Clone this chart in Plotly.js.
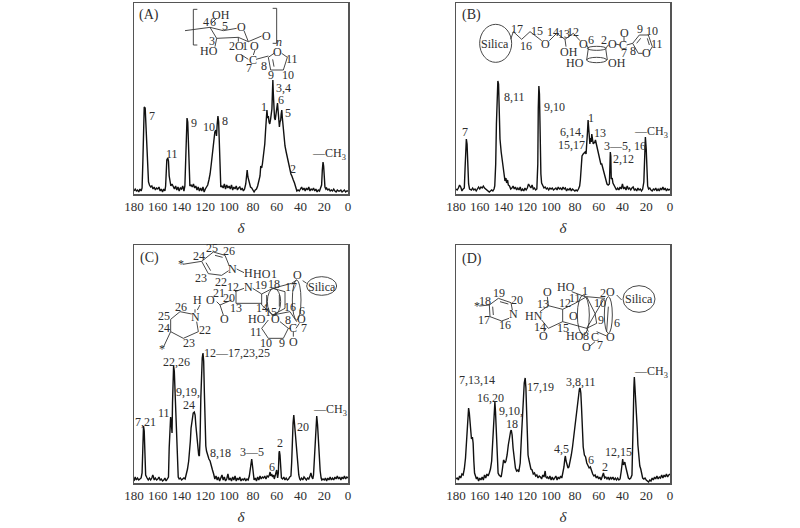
<!DOCTYPE html>
<html><head><meta charset="utf-8">
<script src="https://cdn.plot.ly/plotly-3.0.1.min.js"></script>
<style>html,body{margin:0;padding:0;background:#fff}</style></head>
<body><div id="chart" style="width:800px;height:528px"></div>
<script>
// spectra: [chemical shift, intensity]
const spectrumA = [[180,3],[179,5],[178,3],[177,4],[176,2],[175,5],[174,3],[173.2,6],[172.6,30],[172,70],[171.4,87],[170.6,86],[170,70],[169.4,45],[168.6,22],[167.8,12],[167,9],[166,7],[165,8],[164,5],[163,7],[162,4],[161,6],[160,5],[159,7],[158,3],[157,5],[156,2],[155,5],[154,3],[153.4,8],[153,25],[152.4,34],[151.6,36],[151,33],[150.4,18],[149.6,9],[149,8],[148,10],[147,7],[146,5],[145,8],[144,4],[143,7],[142,3],[141,6],[140,5],[139,8],[138,3],[137.2,8],[136.6,30],[136,62],[135.4,76],[134.8,72],[134.2,40],[133.6,15],[133,8],[132,9],[131,7],[130,10],[129,6],[128,8],[127,4],[126,7],[125,3],[124,6],[123,3],[122,7],[121,2],[120,5],[119,7],[118,9],[117,14],[116,20],[115,30],[114,42],[113,52],[112,62],[111.2,64],[110.6,58],[110,70],[109.4,78],[108.8,72],[108.2,40],[107.6,14],[107,7],[106,8],[105,6],[104,10],[103,5],[102,9],[101,6],[100,8],[99,5],[98,9],[97,4],[96,7],[95,5],[94,8],[93,4],[92,6],[91,7],[90,4],[89,6],[88,3],[87,5],[86,10],[85.4,20],[84.8,24],[84.2,17],[83.6,14],[83,12],[82,7],[81,6],[80,3],[79,2],[78,4],[77,5],[76,8],[75,12],[74,18],[73.4,28],[72.6,26],[72,30],[71,38],[70,50],[69.4,62],[68.8,75],[68.2,84],[67.6,76],[67,78],[66.4,72],[65.8,70],[65.2,74],[64.6,78],[64,85],[63.6,100],[63.2,114],[62.8,100],[62.4,84],[61.8,76],[61.2,74],[60.6,80],[60,86],[59.3,91],[58.7,82],[58.2,72],[57.7,67],[57.2,72],[56.6,74],[56.2,80],[55.7,84],[55.2,76],[54.6,66],[54,58],[53,48],[52,42],[51,36],[50,30],[49,25],[48,20],[47.2,18],[46.6,15],[46,14],[45,11],[44,6],[43,3],[42,4],[41,3],[40,5],[39,7],[38,4],[37,6],[36,3],[35,6],[34,4],[33,7],[32,3],[31,5],[30,4],[29,6],[28,3],[27,5],[26,2],[25,4],[24,3],[23,6],[22.2,9],[21.6,24],[21,32],[20.5,28],[20,14],[19.4,7],[18.6,5],[18,6],[17,4],[16,5],[15,3],[14,4],[13,3],[12,5],[11,3],[10,2],[9,4],[8,3],[7,3],[6,4],[5,2],[4,3],[3,4],[2,2],[1,3],[0,3]];
const spectrumB = [[180,5],[179,4],[178,6],[177,9],[176,7],[175,3],[174,5],[173,6],[172.4,25],[171.8,45],[171.3,55],[170.7,50],[170,28],[169.4,10],[168.6,5],[167,4],[166,6],[165,4],[164,5],[163,3],[162,5],[161,7],[160,5],[159,7],[158,6],[157,8],[156,6],[155,5],[154,4],[153,3],[152,2],[151,3],[150,4],[149,3],[148,5],[147.4,8],[146.6,30],[146,70],[145.4,100],[144.8,113],[144.2,110],[143.6,80],[143,55],[142,42],[141,32],[140,27],[139.4,20],[138.8,13],[138,16],[137.4,11],[136.6,14],[136,9],[135,8],[134,5],[133,6],[132,8],[131,5],[130,7],[129,4],[128,6],[127,4],[126,7],[125,3],[124,5],[123,3],[122,6],[121,4],[120,6],[119,10],[118,8],[117,6],[116,9],[115,5],[114,6],[113,4],[112,5],[111.2,30],[110.8,85],[110.3,108],[109.8,100],[109.2,50],[108.6,20],[108,11],[107,8],[106,6],[105,7],[104,5],[103,6],[102,4],[101,6],[100,5],[99,6],[98,4],[97,5],[96,6],[95,4],[94,7],[93,5],[92,6],[91,4],[90,7],[89,5],[88,6],[87,3],[86,5],[85,4],[84,6],[83,3],[82,5],[81,4],[80,3],[79,4],[78,3],[77,5],[76,8],[75.4,14],[74.6,30],[74,38],[73,40],[72,41],[71.4,42],[70.6,40],[70,48],[69.4,62],[68.9,74],[68.4,62],[67.9,52],[67.4,50],[66.8,56],[66.2,52],[65.8,60],[65.2,53],[64.6,50],[64,52],[63.4,51],[62.7,54],[62,50],[61,46],[60,42],[59.4,38],[58.8,34],[58.2,30],[57.4,30],[56.6,26],[56,24],[55.2,18],[54.4,14],[54,12],[53,10],[52,9],[51,10],[50.6,25],[50.2,42],[49.8,38],[49.4,15],[48.6,16],[48,11],[47,8],[46,6],[45,4],[44,6],[43,4],[42,7],[41,5],[40,10],[39,5],[38,7],[37,4],[36,8],[35,5],[34,6],[33,4],[32,6],[31,7],[30,4],[29,5],[28,3],[27,6],[26,4],[25,5],[24,3],[23,5],[22,12],[21.4,35],[20.7,57],[20,45],[19.4,20],[18.8,8],[18,5],[17,6],[16,4],[15,3],[14,5],[13,4],[12,6],[11,3],[10,5],[9,3],[8,6],[7,4],[6,7],[5,4],[4,6],[3,3],[2,5],[1,4],[0,5]];
const spectrumC = [[180,2],[179,6],[178,3],[177,5],[176,3],[175,4],[174,5],[173.2,10],[172.6,40],[172,57],[171.4,52],[170.8,28],[170.2,8],[169,5],[168,3],[167,5],[166,3],[165,5],[164.2,8],[163.6,6],[163,3],[162,5],[161,3],[160,4],[159,6],[158,3],[157,4],[156,2],[155,3],[154,5],[153,2],[152,4],[151,6],[150.4,35],[149.8,60],[149.2,66],[148.6,60],[148,50],[147.6,80],[147.2,105],[146.7,117],[146.1,112],[145.5,90],[144.8,70],[144,45],[143.4,20],[142.8,6],[142,4],[141,5],[140,3],[139,4],[138,5],[137,4],[136,8],[135,14],[134,22],[133.4,28],[132.6,42],[132,55],[131,66],[130.2,70],[129.3,71],[128.6,68],[128,58],[127.2,47],[126.4,35],[125.6,28],[125,27],[124.4,45],[123.8,85],[123.2,115],[122.6,125],[122,130],[121.4,122],[120.8,90],[120.2,55],[119.6,37],[119,32],[118.2,28],[117,24],[116,22],[115,16],[114,13],[113,9],[112,4],[111,7],[110,3],[109,6],[108,2],[107,5],[106,8],[105,3],[104,6],[103,2],[102,4],[101,9],[100,3],[99,5],[98,2],[97,6],[96,3],[95,7],[94,2],[93,5],[92,3],[91,6],[90,2],[89,4],[88,3],[87,5],[86,2],[85,4],[84,3],[83,7],[82.2,16],[81.6,22],[81,24],[80.4,18],[79.8,7],[79,3],[78,5],[77,2],[76,6],[75,3],[74,7],[73,4],[72,6],[71,5],[70,7],[69,4],[68,7],[67,6],[66.2,8],[65.5,11],[65,7],[64.2,9],[63.4,6],[62.6,8],[62,4],[61,9],[60,13],[59.2,5],[58.6,10],[58,30],[57.7,32],[57.2,28],[56.6,12],[56,5],[55,4],[54,6],[53,3],[52,5],[51,3],[50,4],[49,6],[48,7],[47.4,20],[46.8,48],[46.2,60],[45.6,68],[45,60],[44.4,50],[43.8,38],[43,26],[42.2,14],[41.4,8],[40.6,4],[40,3],[39,5],[38,3],[37,6],[36,4],[35,3],[34,5],[33,4],[32,7],[31.2,10],[30.4,6],[29.6,4],[29,8],[28.4,20],[27.6,48],[27,60],[26.3,67],[25.6,58],[25,42],[24.2,25],[23.4,12],[22.6,5],[22,3],[21,4],[20,3],[19,5],[18,2],[17,5],[16,3],[15,6],[14,3],[13,5],[12,3],[11,6],[10,4],[9,7],[8,4],[7,6],[6,3],[5,6],[4,4],[3,7],[2,4],[1,6],[0,5]];
const spectrumD = [[180,4],[179,5],[178,3],[177,7],[176,5],[175,9],[174,8],[173,14],[172,25],[171.2,40],[170.4,60],[169.8,72],[169.4,75],[168.8,70],[168.2,60],[167.6,48],[167,44],[166.2,46],[165.6,40],[165,22],[164.4,10],[163.6,7],[162.8,4],[162,6],[161,2],[160,5],[159,3],[158,6],[157,3],[156,8],[155,5],[154,9],[153,7],[152,10],[151,14],[150,22],[149,45],[148.2,68],[147.6,78],[147.3,81],[146.8,72],[146.2,50],[145.4,25],[144.6,10],[143.8,8],[143,7],[142,6],[141.2,12],[140.6,21],[140,23],[139.4,22],[138.8,20],[138,22],[137,28],[136,38],[135,47],[134,52],[133.5,53],[132.8,48],[132,35],[131,22],[130,15],[129,12],[128,13],[127.2,11],[126.6,14],[126,20],[125,45],[124,75],[123.4,92],[122.6,100],[121.8,105],[121.2,95],[120.6,72],[120,45],[119.4,28],[118.8,24],[118,20],[117,14],[116,13],[115,9],[114,10],[113,7],[112,8],[111,5],[110,7],[109,6],[108,4],[107,8],[106,6],[105.4,9],[105,12],[104.4,6],[103.6,5],[103,6],[102,4],[101,7],[100,3],[99,6],[98,3],[97,5],[96,7],[95,3],[94,6],[93,4],[92,7],[91,5],[90,10],[89.2,16],[88.4,25],[88,27],[87.4,22],[86.6,17],[85.8,15],[85,16],[84,21],[83,28],[82,36],[81,46],[80,58],[79,70],[78,82],[77,90],[76.2,94],[75.6,95],[75,90],[74.4,75],[73.6,50],[73,36],[72,28],[71,26],[70,20],[69,18],[68,15],[67,16],[66,12],[65,9],[64,7],[63,8],[62,5],[61,7],[60,4],[59,6],[58,3],[57,7],[56,10],[55,5],[54,6],[53,4],[52,6],[51,3],[50,6],[49,4],[48,6],[47,3],[46,5],[45,3],[44,5],[43,3],[42,4],[41,12],[40.4,20],[39.8,24],[39.2,18],[38.6,19],[38,21],[37.4,17],[36.6,12],[36,8],[35,5],[34,4],[33,5],[32,8],[31.4,30],[30.8,70],[30.4,95],[30,106],[29.6,98],[29,88],[28.4,75],[27.6,55],[27,38],[26.2,22],[25.4,17],[24.6,14],[24,9],[23,5],[22,4],[21,5],[20,3],[19,2],[18,1],[17,3],[16,2],[15,5],[14,3],[13,6],[12,4],[11,7],[10,4],[9,6],[8,5],[7,8],[6,5],[5,8],[4,6],[3,9],[2,6],[1,8],[0,9]];
const xTicks = [180,160,140,120,100,80,60,40,20,0];
const xAxisTitle = '<i>δ</i>';
// label tables: [text, zoom-x, zoom-y]  (3x local units of each panel's drawing area)
const labelsA = [['(A)',87,45],['7',95,347],['11',157,462],['9',221,368],['10',268,382],['8',315,362],['3,4',490,265],['1',432,320],['6',483,300],['5',503,340],['2',518,508],['—CH<sub>3</sub>',627,463],['OH',303,45],['4',258,66],['6',278,66],['5',315,78],['O',363,82],['O',440,107],['<i>n</i>',478,125],['3',275,122],['HO',268,152],['2',335,137],['O',357,137],['1',375,137],['O',405,137],['O',357,175],['C',400,180],['7',387,205],['8',432,197],['O',473,157],['11',517,177],['9',452,225],['10',503,225]];
const labelsB = [['(B)',93,45],['7',76,395],['8,11',222,290],['9,10',342,320],['6,14,',395,395],['15,17',395,436],['1',452,355],['13',480,400],['3—5, 16',555,438],['2,12',550,476],['—CH<sub>3</sub>',634,395],['Silica',165,133],['17',232,88],['16',258,138],['15',292,93],['O',317,132],['14',338,95],['13',372,103],['12',400,95],['OH',388,155],['O',430,132],['6',452,120],['2',492,120],['O',517,132],['C',548,135],['O',552,98],['7',553,160],['8',578,152],['9',600,88],['10',635,92],['11',650,132],['O',618,160],['HO',405,188],['OH',530,190]];
const labelsC = [['(C)',87,-6],['24',238,-12],['25',277,-36],['26',328,-27],['23',243,54],['22',302,66],['*',182,13],['*',126,268],['N',337,27],['H',385,40],['HO',425,42],['1',462,42],['O',533,45],['Silica',605,80],['12',338,80],['N',385,80],['19',422,75],['18',462,72],['17',512,82],['21',298,100],['20',328,113],['13',347,145],['14',425,145],['15',452,155],['16',510,140],['6',547,152],['H',233,120],['O',272,120],['26',183,140],['25',133,168],['24',133,205],['N',225,170],['22',255,210],['23',207,250],['O',313,178],['HO',412,178],['O',465,178],['8',503,180],['C',520,205],['O',543,178],['7',552,205],['O',520,245],['11',408,215],['10',437,250],['9',487,250],['7,21',75,485],['11',133,458],['22,26',168,305],['9,19,',205,395],['24',207,435],['12—17,23,25',350,280],['8,18',300,578],['3—5',395,577],['6',457,620],['2',480,550],['20',548,500],['—CH<sub>3</sub>',630,450]];
const labelsD = [['(D)',96,-4],['*',110,138],['7,13,14',112,360],['16,20',150,413],['9,10,',212,452],['18',215,492],['17,19',302,382],['3,8,11',423,365],['4,5',365,567],['6',452,600],['2',495,620],['12,15',535,577],['—CH<sub>3</sub>',633,335],['19',178,100],['18',135,123],['20',232,120],['17',132,180],['16',195,195],['N',220,163],['13',310,132],['O',322,97],['12',375,130],['11',405,115],['HO',378,82],['1',435,92],['2',490,98],['O',510,97],['10',480,128],['Silica',597,117],['HN',282,168],['O',400,168],['14',300,200],['O',310,228],['15',370,205],['HO',405,228],['8',438,228],['C',465,230],['O',510,232],['7',480,255],['O',440,262],['6',530,190],['9',482,180]];
// structure sketches: polylines in the same zoom units
const bondsA = [[[232,28],[220,28],[220,135],[232,135]],[[458,25],[470,25],[470,130],[458,130]],[[195,92],[270,82],[310,92],[350,85]],[[270,82],[290,115],[355,112],[385,125],[372,92]],[[275,70],[290,55]],[[290,115],[285,140]],[[355,112],[355,125]],[[385,125],[425,108]],[[365,165],[385,178]],[[408,178],[445,168]],[[400,165],[405,150]],[[462,160],[445,172],[452,210],[490,210],[502,172],[485,160]],[[458,178],[462,200]]];
const bondsB = [[[212,118],[220,95],[245,118],[270,95],[305,122]],[[328,122],[350,100],[375,118],[400,100],[420,122]],[[375,118],[378,140]],[[440,135],[445,145]],[[497,145],[505,135]],[[527,132],[540,135]],[[560,135],[578,130]],[[552,125],[552,108]],[[552,145],[553,150]],[[578,130],[598,105],[625,105],[637,140],[628,155]],[[578,130],[595,160],[608,160]],[[602,115],[590,130]],[[622,115],[628,135]],[[445,145],[440,180]],[[497,145],[502,180]]];
const bondsC = [[[188,13],[245,4],[280,-24],[315,-14],[328,18]],[[245,4],[265,41],[305,46],[326,32]],[[258,8],[272,32]],[[285,-14],[308,-8]],[[350,27],[372,38]],[[345,95],[372,85]],[[398,85],[425,102],[425,135]],[[348,95],[348,130],[425,130]],[[335,120],[300,135],[290,125]],[[300,135],[310,165]],[[240,135],[232,150]],[[225,158],[225,148]],[[152,178],[180,155],[215,162]],[[230,185],[235,215],[190,235],[152,215],[152,178]],[[152,215],[130,262]],[[425,102],[458,85],[495,95],[495,145],[458,165],[425,135]],[[440,105],[440,140]],[[478,105],[478,140]],[[458,85],[515,70],[530,60]],[[458,165],[510,155],[530,185]],[[425,205],[445,180]],[[480,185],[505,205],[490,235],[445,235],[425,205]],[[505,205],[512,205]],[[528,205],[538,190]],[[520,215],[520,230]],[[548,62],[560,70]]];
const bondsD = [[[118,138],[148,135],[175,115],[213,128],[217,150]],[[148,135],[150,170],[185,183],[207,175]],[[158,140],[160,165]],[[180,125],[205,132]],[[300,155],[325,137],[368,148],[368,185],[325,205],[305,180]],[[322,110],[325,137]],[[318,205],[312,215]],[[368,148],[405,130],[440,110],[495,115]],[[368,185],[440,205],[445,215]],[[395,95],[435,110]],[[440,110],[465,160],[470,190],[440,205]],[[440,205],[490,120]],[[470,215],[500,228]],[[465,245],[450,258]],[[500,215],[505,140]],[[530,105],[545,120]]];
// ellipses: [panel, cx, cy, rx, ry] in the same zoom units
const ellipses = [[1,167,130,48,57],[3,597,117,48,40],[2,605,78,45,28],[1,470,145,28,6],[1,470,180,30,8],[2,462,125,20,40],[2,530,120,13,60],[3,430,165,18,60],[3,505,165,12,55]];

const FONT = '"Liberation Serif","Times New Roman",serif', INK='#2e2e2e', W=800, H=528;
const px = [{x0:134,x1:348,y0:3,y1:194,ox:120,oy:0,spec:spectrumA,labels:labelsA,bonds:bondsA},
            {x0:456,x1:670,y0:3,y1:194,ox:440,oy:0,spec:spectrumB,labels:labelsB,bonds:bondsB},
            {x0:134,x1:348,y0:245,y1:483,ox:120,oy:260,spec:spectrumC,labels:labelsC,bonds:bondsC},
            {x0:456,x1:670,y0:245,y1:483,ox:440,oy:260,spec:spectrumD,labels:labelsD,bonds:bondsD}];
const X = v => v/W, Y = v => 1-v/H;
const data=[], anns=[], shapes=[], layout={width:W,height:H,margin:{l:0,r:0,t:0,b:0},paper_bgcolor:'#fff',plot_bgcolor:'#fff',showlegend:false,hovermode:false,font:{family:FONT,color:INK,size:13}};
px.forEach((p,i)=>{
  const n=i+1, xa='xaxis'+(i?n:''), ya='yaxis'+(i?n:'');
  data.push({type:'scatter',mode:'lines',x:p.spec.map(d=>d[0]),y:p.spec.map(d=>d[1]),xaxis:'x'+(i?n:''),yaxis:'y'+(i?n:''),line:{color:'#111',width:1.4,shape:'linear'}});
  layout[xa]={domain:[X(p.x0),X(p.x1)],range:[180,0],anchor:'y'+(i?n:''),tickmode:'array',tickvals:xTicks,ticktext:xTicks.map(String),ticks:'',tickfont:{family:FONT,size:13,color:INK},showgrid:false,zeroline:false,showline:true,mirror:true,linecolor:'#555',linewidth:1.5,title:{text:xAxisTitle,font:{family:FONT,size:15,color:INK},standoff:9}};
  layout[ya]={domain:[Y(p.y1),Y(p.y0)],range:[0,p.y1-p.y0],anchor:'x'+(i?n:''),showticklabels:false,ticks:'',showgrid:false,zeroline:false,showline:true,mirror:true,linecolor:'#555',linewidth:1.5};
  p.labels.forEach(l=>anns.push({text:l[0],xref:'paper',yref:'paper',x:X(p.ox+l[1]/3),y:Y(p.oy+l[2]/3),xanchor:'center',yanchor:'middle',showarrow:false,font:{family:FONT,size:(l[0].length>=3&&l[0][0]=='(')?14:12,color:INK}}));
  const path=p.bonds.map(b=>b.map((q,j)=>(j?'L':'M')+X(p.ox+q[0]/3)+','+Y(p.oy+q[1]/3)).join(' ')).join(' ');
  shapes.push({type:'path',xref:'paper',yref:'paper',path,line:{color:'#333',width:0.9}});
});
ellipses.forEach(e=>{
  const p=px[e[0]];
  shapes.push({type:'circle',xref:'paper',yref:'paper',x0:X(p.ox+(e[1]-e[3])/3),x1:X(p.ox+(e[1]+e[3])/3),y0:Y(p.oy+(e[2]-e[4])/3),y1:Y(p.oy+(e[2]+e[4])/3),line:{color:'#333',width:0.9}});
});
layout.annotations=anns; layout.shapes=shapes;
Plotly.newPlot('chart',data,layout,{displayModeBar:false,staticPlot:true});
</script></body></html>
